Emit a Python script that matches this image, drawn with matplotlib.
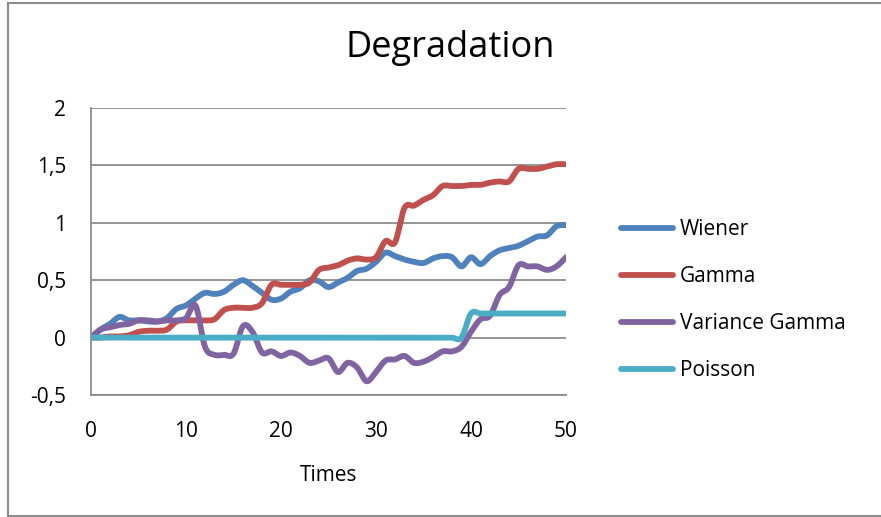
import numpy as np
import matplotlib
matplotlib.use('Agg')
import matplotlib.pyplot as plt
from matplotlib.lines import Line2D

plt.rcParams['font.family'] = ['Open Sans', 'DejaVu Sans']

times = list(range(0, 51))

wiener = [0.0, 0.07, 0.12, 0.18, 0.15, 0.15, 0.14, 0.14, 0.17, 0.25,
          0.28, 0.34, 0.39, 0.38, 0.40, 0.46, 0.50, 0.45, 0.39, 0.33,
          0.34, 0.40, 0.43, 0.50, 0.49, 0.44, 0.48, 0.52, 0.58, 0.60,
          0.66, 0.74, 0.71, 0.68, 0.66, 0.65, 0.69, 0.71, 0.70, 0.62,
          0.70, 0.64, 0.71, 0.76, 0.78, 0.80, 0.84, 0.88, 0.89, 0.97, 0.98]

gamma = [0.0, 0.0, 0.01, 0.01, 0.02, 0.05, 0.06, 0.06, 0.07, 0.14,
         0.15, 0.15, 0.15, 0.16, 0.24, 0.26, 0.26, 0.26, 0.30, 0.46,
         0.46, 0.46, 0.46, 0.48, 0.59, 0.61, 0.63, 0.67, 0.69, 0.68,
         0.70, 0.84, 0.83, 1.13, 1.15, 1.20, 1.24, 1.32, 1.32, 1.32,
         1.33, 1.33, 1.35, 1.36, 1.36, 1.47, 1.47, 1.47, 1.49, 1.51, 1.51]

var_gamma = [0.0, 0.07, 0.09, 0.11, 0.12, 0.15, 0.15, 0.14, 0.15, 0.15,
             0.17, 0.28, -0.08, -0.15, -0.15, -0.14, 0.10, 0.05, -0.13, -0.12,
             -0.16, -0.13, -0.16, -0.22, -0.20, -0.18, -0.30, -0.22, -0.26, -0.38,
             -0.30, -0.20, -0.19, -0.16, -0.22, -0.21, -0.17, -0.12, -0.12, -0.08,
             0.05, 0.16, 0.19, 0.37, 0.44, 0.63, 0.62, 0.62, 0.59, 0.62, 0.70]

poisson = [0.0] * 40 + [0.21] * 11

series = [("Wiener", wiener, "#4F81BD"),
          ("Gamma", gamma, "#C0504D"),
          ("Variance Gamma", var_gamma, "#8064A2"),
          ("Poisson", poisson, "#4BACC6")]


def smooth(x, y, n=12):
    # catmull-rom, like excel's "smoothed line"
    x = np.asarray(x, float)
    y = np.asarray(y, float)
    px = np.concatenate([[x[0]], x, [x[-1]]])
    py = np.concatenate([[y[0]], y, [y[-1]]])
    xs, ys = [], []
    s = np.linspace(0, 1, n, endpoint=False)
    for i in range(1, len(px) - 2):
        for P, out in ((px, xs), (py, ys)):
            p0, p1, p2, p3 = P[i - 1], P[i], P[i + 1], P[i + 2]
            m1 = (p2 - p0) / 2
            m2 = (p3 - p1) / 2
            h00 = 2 * s**3 - 3 * s**2 + 1
            h10 = s**3 - 2 * s**2 + s
            h01 = -2 * s**3 + 3 * s**2
            h11 = s**3 - s**2
            out.extend(h00 * p1 + h10 * m1 + h01 * p2 + h11 * m2)
    xs.append(x[-1])
    ys.append(y[-1])
    return np.array(xs), np.array(ys)


fig = plt.figure(figsize=(8.81, 5.17), dpi=100)
ax = fig.add_axes([91 / 881, 1 - 395 / 517, 475 / 881, 287 / 517])

for name, vals, col in series:
    sx, sy = smooth(times, vals)
    ax.plot(sx, sy, color=col, lw=4.2, solid_capstyle='round', label=name)

ax.set_xlim(0, 50)
ax.set_ylim(-0.5, 2)
ax.set_xticks([0, 10, 20, 30, 40, 50])
ax.set_yticks([-0.5, 0, 0.5, 1, 1.5, 2])
ax.set_yticklabels(["-0,5", "0", "0,5", "1", "1,5", "2"])
ax.tick_params(length=0, labelsize=15, pad=18)
ax.tick_params(axis='x', pad=19)
ax.grid(axis='y', color='#8C8C8C', lw=1.3)
ax.set_axisbelow(True)
for sp in ['top', 'right']:
    ax.spines[sp].set_visible(False)
for sp in ['left', 'bottom']:
    ax.spines[sp].set_color('#8C8C8C')
    ax.spines[sp].set_linewidth(1.3)
ax.set_xlabel("Times", fontsize=15, labelpad=16)

fig.suptitle("Degradation", fontsize=26, x=450 / 881, y=1 - 48 / 517, va='center')

fig.legend(loc='center left', bbox_to_anchor=(602 / 881, 1 - 300 / 517),
           frameon=False, fontsize=15, handlelength=2.5, handletextpad=0.35,
           labelspacing=1.25)

# chart area border
for xs_, ys_ in [([8, 8], [3, 516]), ([8, 881], [3, 3]), ([8, 881], [516, 516])]:
    fig.add_artist(Line2D([v / 881 for v in xs_], [1 - v / 517 for v in ys_],
                          color='#8C8C8C', lw=1.5))

fig.savefig("out.png", dpi=100)
